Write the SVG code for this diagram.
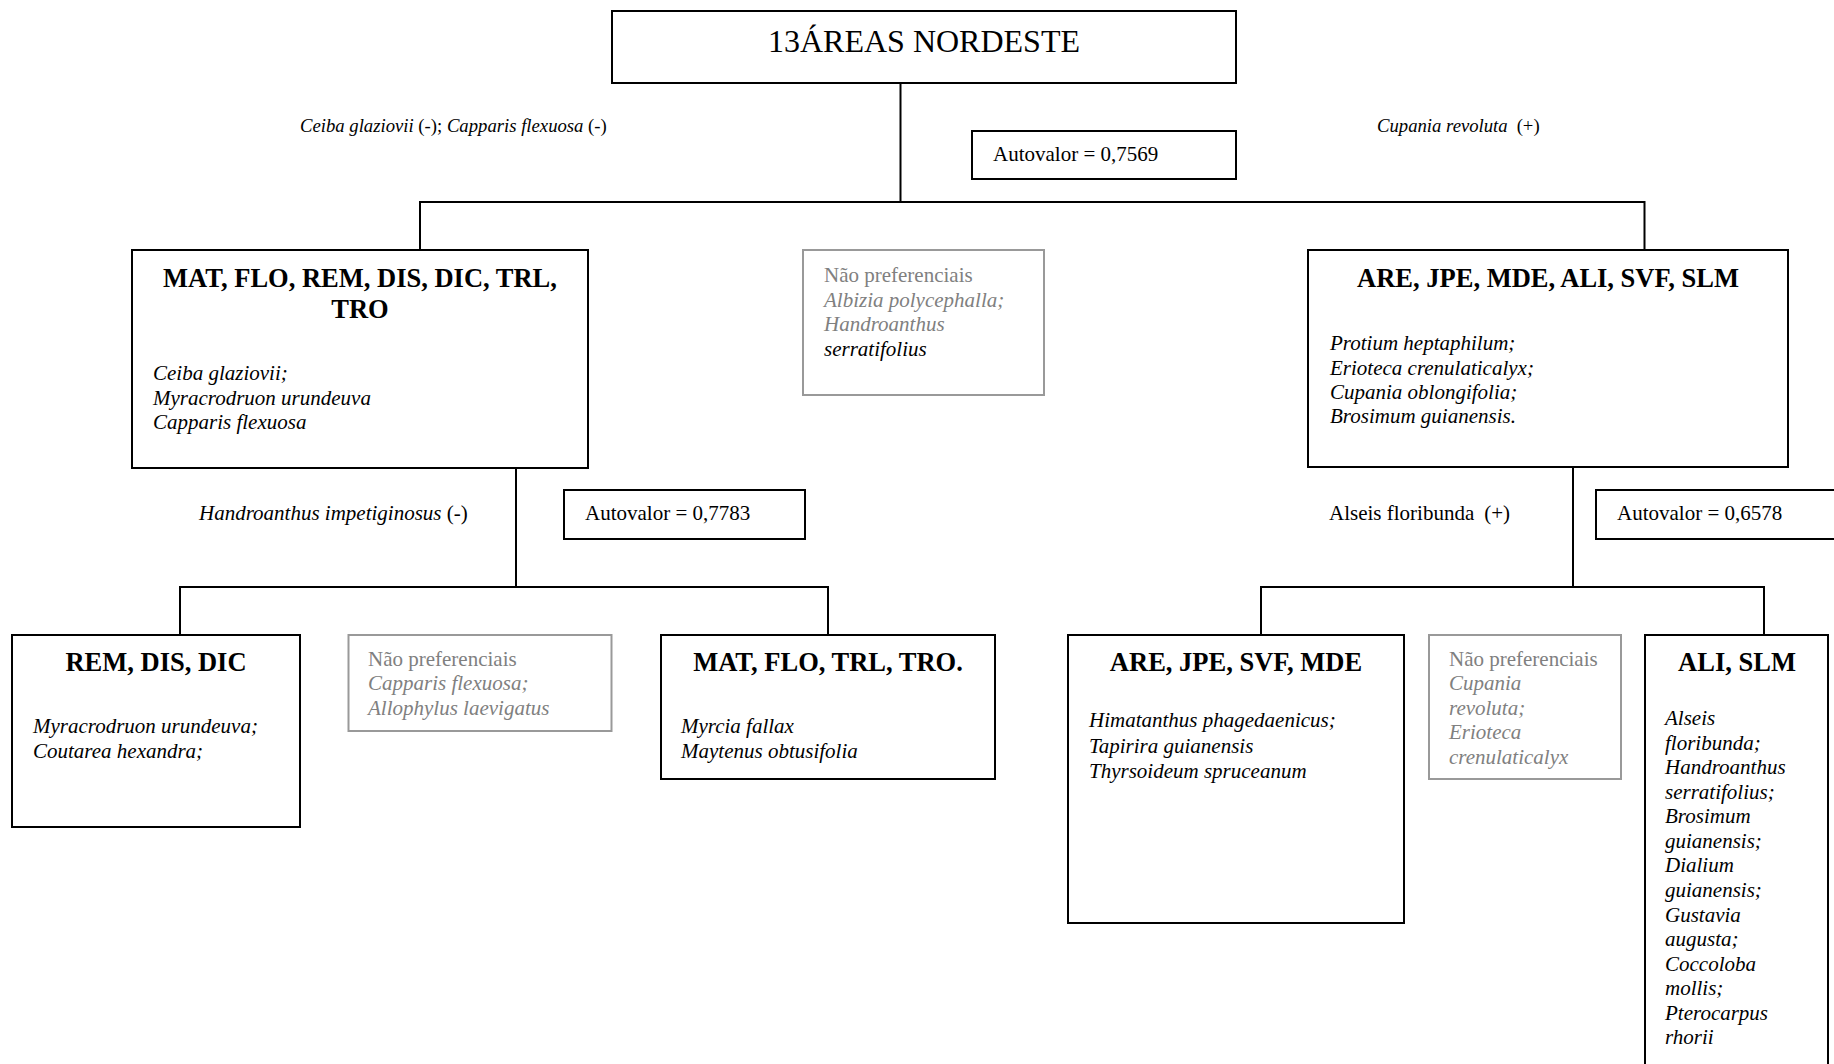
<svg xmlns="http://www.w3.org/2000/svg" width="1834" height="1064" viewBox="0 0 1834 1064">
  <style>
    text { font-family: "Liberation Serif", "Times New Roman", serif; fill: #000; }
    .box { fill: #fff; stroke: #000; stroke-width: 2; }
    .gbox { fill: #fff; stroke: #999; stroke-width: 2; }
    .link { fill: none; stroke: #000; stroke-width: 2; }
    .title { font-size: 32px; text-anchor: middle; }
    .head { font-size: 26.5px; font-weight: bold; text-anchor: middle; }
    .sp { font-size: 21px; font-style: italic; }
    .reg { font-size: 21px; }
    .lbl { font-size: 18.7px; }
    .it { font-style: italic; }
    .grey { fill: #808080; }
  </style>
  <rect x="0" y="0" width="1834" height="1064" fill="#fff"/>

  <!-- tree connectors -->
  <g id="connectors">
    <path class="link" d="M900.5 83 V202"/>
    <path class="link" d="M420 250 V202 H1644.5 V250"/>
    <path class="link" d="M516 468 V587"/>
    <path class="link" d="M180 635 V587 H828 V635"/>
    <path class="link" d="M1573 467 V587"/>
    <path class="link" d="M1261 635 V587 H1764 V635"/>
  </g>

  <!-- split labels and eigenvalues -->
  <g id="split-1">
    <text class="lbl" x="300" y="132"><tspan class="it">Ceiba glaziovii</tspan> (-); <tspan class="it">Capparis flexuosa</tspan> (-)</text>
    <text class="lbl" x="1377" y="132"><tspan class="it">Cupania revoluta</tspan><tspan dx="9">(+)</tspan></text>
    <rect class="box" x="972" y="131" width="264" height="48"/>
    <text class="reg" x="993" y="161">Autovalor = 0,7569</text>
  </g>
  <g id="split-2">
    <text class="reg" x="199" y="520"><tspan class="it">Handroanthus impetiginosus</tspan> (-)</text>
    <rect class="box" x="564" y="490" width="241" height="49"/>
    <text class="reg" x="585" y="520">Autovalor = 0,7783</text>
  </g>
  <g id="split-3">
    <text class="reg" x="1329" y="520">Alseis floribunda<tspan dx="10">(+)</tspan></text>
    <rect class="box" x="1596" y="490" width="260" height="49"/>
    <text class="reg" x="1617" y="520">Autovalor = 0,6578</text>
  </g>

  <!-- root -->
  <g id="root">
    <rect class="box" x="612" y="11" width="624" height="72"/>
    <text class="title" x="924" y="52">13ÁREAS NORDESTE</text>
  </g>

  <!-- first level -->
  <g id="group-left">
    <rect class="box" x="132" y="250" width="456" height="218"/>
    <text class="head" x="360" y="287">MAT, FLO, REM, DIS, DIC, TRL,</text>
    <text class="head" x="360" y="318">TRO</text>
    <text class="sp" x="153" y="380">Ceiba glaziovii;</text>
    <text class="sp" x="153" y="404.5">Myracrodruon urundeuva</text>
    <text class="sp" x="153" y="429">Capparis flexuosa</text>
  </g>
  <g id="nonpref-1">
    <rect class="gbox" x="803" y="250" width="241" height="145"/>
    <text class="reg grey" x="824" y="282">Não preferenciais</text>
    <text class="sp grey" x="824" y="306.5">Albizia polycephalla;</text>
    <text class="sp grey" x="824" y="331">Handroanthus</text>
    <text class="sp" x="824" y="356">serratifolius</text>
  </g>
  <g id="group-right">
    <rect class="box" x="1308" y="250" width="480" height="217"/>
    <text class="head" x="1548" y="287">ARE, JPE, MDE, ALI, SVF, SLM</text>
    <text class="sp" x="1330" y="350">Protium heptaphilum;</text>
    <text class="sp" x="1330" y="374.5">Erioteca crenulaticalyx;</text>
    <text class="sp" x="1330" y="399">Cupania oblongifolia;</text>
    <text class="sp" x="1330" y="423">Brosimum guianensis.</text>
  </g>

  <!-- second level, left branch -->
  <g id="rem-dis-dic">
    <rect class="box" x="12" y="635" width="288" height="192"/>
    <text class="head" x="156" y="671">REM, DIS, DIC</text>
    <text class="sp" x="33" y="733">Myracrodruon urundeuva;</text>
    <text class="sp" x="33" y="758">Coutarea hexandra;</text>
  </g>
  <g id="nonpref-2">
    <rect class="gbox" x="348.5" y="635" width="263" height="96"/>
    <text class="reg grey" x="368" y="666">Não preferenciais</text>
    <text class="sp grey" x="368" y="690">Capparis flexuosa;</text>
    <text class="sp grey" x="368" y="715">Allophylus laevigatus</text>
  </g>
  <g id="mat-flo-trl-tro">
    <rect class="box" x="661" y="635" width="334" height="144"/>
    <text class="head" x="828" y="671">MAT, FLO, TRL, TRO.</text>
    <text class="sp" x="681" y="733">Myrcia fallax</text>
    <text class="sp" x="681" y="758">Maytenus obtusifolia</text>
  </g>

  <!-- second level, right branch -->
  <g id="are-jpe-svf-mde">
    <rect class="box" x="1068" y="635" width="336" height="288"/>
    <text class="head" x="1236" y="671">ARE, JPE, SVF, MDE</text>
    <text class="sp" x="1089" y="727">Himatanthus phagedaenicus;</text>
    <text class="sp" x="1089" y="753">Tapirira guianensis</text>
    <text class="sp" x="1089" y="778">Thyrsoideum spruceanum</text>
  </g>
  <g id="nonpref-3">
    <rect class="gbox" x="1429" y="635" width="192" height="144"/>
    <text class="reg grey" x="1449" y="666">Não preferenciais</text>
    <text class="sp grey" x="1449" y="690">Cupania</text>
    <text class="sp grey" x="1449" y="715">revoluta;</text>
    <text class="sp grey" x="1449" y="739">Erioteca</text>
    <text class="sp grey" x="1449" y="764">crenulaticalyx</text>
  </g>
  <g id="ali-slm">
    <rect class="box" x="1645" y="635" width="183" height="445"/>
    <text class="head" x="1737" y="671">ALI, SLM</text>
    <text class="sp" x="1665" y="725">Alseis</text>
    <text class="sp" x="1665" y="749.6">floribunda;</text>
    <text class="sp" x="1665" y="774.1">Handroanthus</text>
    <text class="sp" x="1665" y="798.7">serratifolius;</text>
    <text class="sp" x="1665" y="823.2">Brosimum</text>
    <text class="sp" x="1665" y="847.8">guianensis;</text>
    <text class="sp" x="1665" y="872.4">Dialium</text>
    <text class="sp" x="1665" y="896.9">guianensis;</text>
    <text class="sp" x="1665" y="921.5">Gustavia</text>
    <text class="sp" x="1665" y="946">augusta;</text>
    <text class="sp" x="1665" y="970.6">Coccoloba</text>
    <text class="sp" x="1665" y="995.2">mollis;</text>
    <text class="sp" x="1665" y="1019.7">Pterocarpus</text>
    <text class="sp" x="1665" y="1044.3">rhorii</text>
  </g>
</svg>
